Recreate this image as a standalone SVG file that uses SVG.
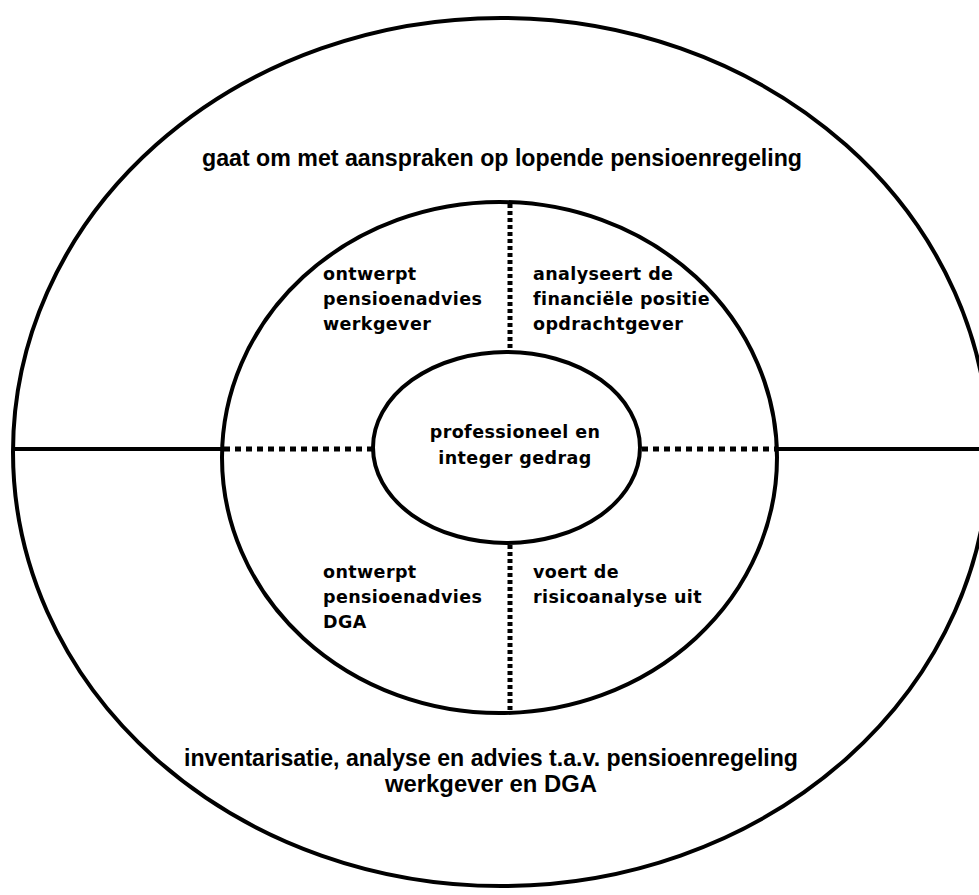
<svg xmlns="http://www.w3.org/2000/svg" width="979" height="895" viewBox="0 0 979 895">
<style>
.ring{fill:none;stroke:#000;stroke-width:4}
.solid{stroke:#000;stroke-width:4;fill:none}
.dotv{stroke:#000;stroke-width:5;stroke-dasharray:4 3;fill:none}
.doth{stroke:#000;stroke-width:5;stroke-dasharray:6 5;fill:none}
.outer{font-family:"Liberation Sans",Arial,sans-serif;font-size:24px;font-weight:bold;fill:#000}
.inner{font-family:"DejaVu Sans",Verdana,sans-serif;font-size:17.5px;font-weight:bold;letter-spacing:0.4px;fill:#000}
</style>
<rect width="979" height="895" fill="#fff"/>
<g id="outer-ring">
<ellipse class="ring" cx="501" cy="452" rx="488" ry="434"/>
<text class="outer" x="502" y="166" text-anchor="middle" textLength="600" lengthAdjust="spacingAndGlyphs">gaat om met aanspraken op lopende pensioenregeling</text>
<text class="outer" x="491" y="766" text-anchor="middle" textLength="614" lengthAdjust="spacingAndGlyphs">inventarisatie, analyse en advies t.a.v. pensioenregeling</text>
<text class="outer" x="491" y="792" text-anchor="middle" textLength="212" lengthAdjust="spacingAndGlyphs">werkgever en DGA</text>
</g>
<g id="middle-ring">
<ellipse class="ring" cx="499.5" cy="457.5" rx="277.5" ry="255.5"/>
</g>
<g id="q-top-left">
<text class="inner" x="323" y="280">ontwerpt</text>
<text class="inner" x="323" y="305">pensioenadvies</text>
<text class="inner" x="323" y="330">werkgever</text>
</g>
<g id="q-top-right">
<text class="inner" x="533" y="280">analyseert de</text>
<text class="inner" x="533" y="305">financiële positie</text>
<text class="inner" x="533" y="330">opdrachtgever</text>
</g>
<g id="q-bottom-left">
<text class="inner" x="323" y="578">ontwerpt</text>
<text class="inner" x="323" y="603">pensioenadvies</text>
<text class="inner" x="323" y="628">DGA</text>
</g>
<g id="q-bottom-right">
<text class="inner" x="533" y="578">voert de</text>
<text class="inner" x="533" y="603">risicoanalyse uit</text>
</g>
<g id="connectors">
<line class="solid" x1="13" y1="449" x2="222" y2="449"/>
<line class="solid" x1="777" y1="449" x2="979" y2="449"/>
<line class="doth" x1="224" y1="449" x2="372" y2="449"/>
<line class="doth" x1="642" y1="449" x2="777" y2="449"/>
<line class="dotv" x1="510" y1="204" x2="510" y2="351"/>
<line class="dotv" x1="510" y1="545" x2="510" y2="712"/>
</g>
<g id="center">
<ellipse class="ring" cx="506.5" cy="447.5" rx="133.5" ry="95.5" fill="#fff"/>
<text class="inner" x="515" y="438" text-anchor="middle">professioneel en</text>
<text class="inner" x="515" y="464" text-anchor="middle">integer gedrag</text>
</g>
</svg>
